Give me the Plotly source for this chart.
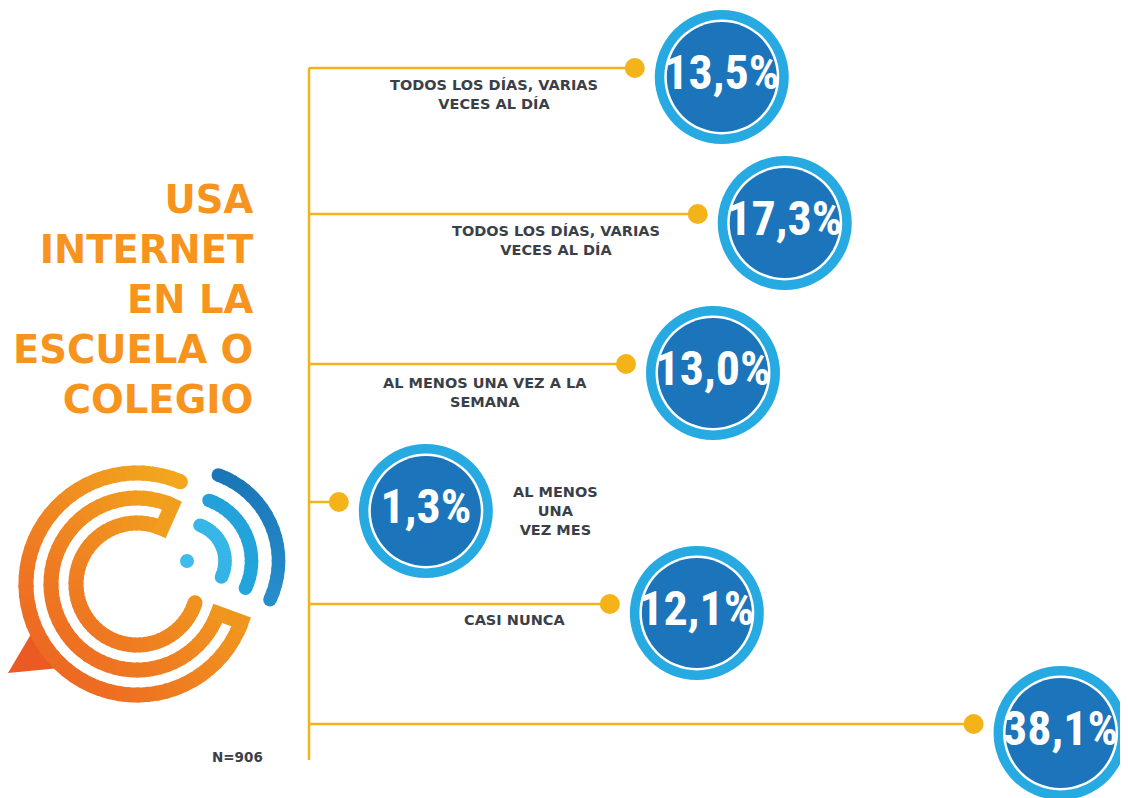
import numpy as np
import plotly.graph_objects as go

# ---------------- data ----------------
categories = [
    "TODOS LOS DÍAS, VARIAS<br>VECES AL DÍA",
    "TODOS LOS DÍAS, VARIAS<br>VECES AL DÍA",
    "AL MENOS UNA VEZ A LA<br>SEMANA",
    "AL MENOS<br>UNA<br>VEZ MES",
    "CASI NUNCA",
    "",
]
values = [13.5, 17.3, 13.0, 1.3, 12.1, 38.1]
value_labels = [f"{v:.1f}".replace(".", ",") + "%" for v in values]
title_lines = ["USA", "INTERNET", "EN LA", "ESCUELA O", "COLEGIO"]
sample_label = "N=906"

# ---------------- layout / style ----------------
W, H = 1128, 798
PAGE_MARGIN = 8         # default body margin of the html page
row_y = [68, 214, 364, 502, 604, 724]          # vertical placement of rows (px)
label_dx = [-141, -142, -141, 217, -95, 0]      # label offset from the dot (px)
label_dy = [26, 26, 28, 9, 16, 0]
SPINE_X = 309           # pixel position of the vertical spine
AXIS_ZERO_PX = 242.5    # pixel position of transformed value 0
PX_PER_UNIT = 82.3      # scale factor of the power scale
POWER = 0.6             # power scale used for line lengths
CIRCLE_DX = 87
CIRCLE_DY = 9
SPINE_BOTTOM = 760

GOLD = "#F5B31A"
LIGHT_BLUE = "#27AAE1"
DARK_BLUE = "#1C75BB"
TEXT_GRAY = "#3B3F48"
ORANGE = "#F7941D"

scaled = [v ** POWER for v in values]
x2_range = [(PAGE_MARGIN - AXIS_ZERO_PX) / PX_PER_UNIT, (W - AXIS_ZERO_PX) / PX_PER_UNIT]
spine_u = (SPINE_X - AXIS_ZERO_PX) / PX_PER_UNIT
cdx = CIRCLE_DX / PX_PER_UNIT

fig = go.Figure()

# spine
fig.add_trace(go.Scatter(x=[spine_u, spine_u], y=[row_y[0], SPINE_BOTTOM], mode="lines",
                         line=dict(color=GOLD, width=2.5), xaxis="x2", yaxis="y",
                         hoverinfo="skip", showlegend=False))
# branches
bx, by = [], []
for s, ry in zip(scaled, row_y):
    bx += [spine_u, s, None]
    by += [ry, ry, None]
fig.add_trace(go.Scatter(x=bx, y=by, mode="lines", line=dict(color=GOLD, width=2.5),
                         xaxis="x2", yaxis="y", hoverinfo="skip", showlegend=False))
# dots
fig.add_trace(go.Scatter(x=scaled, y=row_y, mode="markers",
                         marker=dict(size=20, color=GOLD, line=dict(width=0)),
                         xaxis="x2", yaxis="y", hoverinfo="skip", showlegend=False))
# circles
cx_vals = [s + cdx for s in scaled]
cy_vals = [ry + CIRCLE_DY for ry in row_y]
for size, col in [(134, LIGHT_BLUE), (115, "white"), (110, DARK_BLUE)]:
    fig.add_trace(go.Scatter(x=cx_vals, y=cy_vals, mode="markers",
                             marker=dict(size=size, color=col, line=dict(width=0)),
                             xaxis="x2", yaxis="y", hoverinfo="skip", showlegend=False))
fig.add_trace(go.Scatter(x=cx_vals, y=cy_vals, mode="text", text=value_labels,
                         textposition="middle center",
                         textfont=dict(family="Roboto Condensed, Roboto, sans-serif",
                                       size=48, color="white", weight=700),
                         xaxis="x2", yaxis="y", hoverinfo="skip", showlegend=False))

annotations = []
for cat, s, ry, dx, dy in zip(categories, scaled, row_y, label_dx, label_dy):
    if not cat:
        continue
    annotations.append(dict(x=s, y=ry + dy, xref="x2", yref="y", xshift=dx,
                            text=cat, showarrow=False, align="center",
                            xanchor="center", yanchor="middle",
                            font=dict(family="DejaVu Sans", size=14.5, color=TEXT_GRAY, weight=700)))

annotations.append(dict(x=256, y=299, xref="x", yref="y", text="<br>".join(title_lines),
                        showarrow=False, align="right", xanchor="right", yanchor="middle",
                        font=dict(family="DejaVu Sans", size=38.5, color=ORANGE, weight=700)))
annotations.append(dict(x=237, y=757, xref="x", yref="y", text=sample_label,
                        showarrow=False, xanchor="center", yanchor="middle",
                        font=dict(family="DejaVu Sans", size=13.5, color=TEXT_GRAY, weight=700)))

# ---------------- logo (decoration) ----------------
shapes = []


def lerp_color(c0, c1, t):
    t = min(max(t, 0.0), 1.0)
    return "rgb(%d,%d,%d)" % tuple(round(a + (b - a) * t) for a, b in zip(c0, c1))


def pt(cx, cy, r, deg):
    a = np.radians(deg)
    return cx + r * np.cos(a), cy - r * np.sin(a)


def grad_orange(x, y):
    t = ((x - 15) + (705 - y)) / ((250 - 15) + (705 - 470))
    return lerp_color((236, 88, 36), (243, 184, 28), t)


def arc_segments(cx, cy, r, a0, a1, width, colfn, step=5.0):
    n = max(1, int(np.ceil(abs(a1 - a0) / step)))
    edges = np.linspace(a0, a1, n + 1)
    for i in range(n):
        s, e = edges[i], edges[i + 1]
        d = np.sign(e - s) * 0.8
        angs = np.linspace(s - d if i > 0 else s, e + d if i < n - 1 else e, 5)
        pts = [pt(cx, cy, r, a) for a in angs]
        path = "M " + " L ".join(f"{x:.2f},{y:.2f}" for x, y in pts)
        mx, my = pt(cx, cy, r, (s + e) / 2)
        shapes.append(dict(type="path", path=path, xref="x", yref="y",
                           line=dict(color=colfn(mx, my), width=width)))


def cap(x, y, d, color):
    shapes.append(dict(type="circle", xref="x", yref="y", x0=x - d / 2, x1=x + d / 2,
                       y0=y - d / 2, y1=y + d / 2, fillcolor=color, line=dict(width=0)))


def radial(cx, cy, r0, r1, deg, width, colfn):
    x0, y0 = pt(cx, cy, r0, deg)
    x1, y1 = pt(cx, cy, r1, deg)
    shapes.append(dict(type="path", path=f"M {x0:.2f},{y0:.2f} L {x1:.2f},{y1:.2f}",
                       xref="x", yref="y",
                       line=dict(color=colfn((x0 + x1) / 2, (y0 + y1) / 2), width=width)))


LCX, LCY = 137, 584
RW = 15
# speech bubble tail
shapes.append(dict(type="path", path="M 8,673 L 34,629 L 60,668 Z", xref="x", yref="y",
                   fillcolor="rgb(236,90,36)", line=dict(width=0)))
arc_segments(LCX, LCY, 111, 67, 340, RW, grad_orange)
arc_segments(LCX, LCY, 86, 66, 340, RW, grad_orange)
arc_segments(LCX, LCY, 61, 66, 342, RW, grad_orange)
radial(LCX, LCY, 118.5, 78.5, 340, RW, grad_orange)
radial(LCX, LCY, 93.5, 53.5, 66, RW, grad_orange)
x, y = pt(LCX, LCY, 111, 67)
cap(x, y, RW, grad_orange(x, y))
x, y = pt(LCX, LCY, 61, 342)
cap(x, y, RW, grad_orange(x, y))

# wifi
WCX, WCY = 187, 561
cap(WCX, WCY, 14, "rgb(62,188,236)")
wifi = [
    (38, (58, 186, 234), (52, 178, 228)),
    (64.5, (36, 160, 218), (33, 165, 220)),
    (91.5, (26, 117, 182), (40, 142, 203)),
]
for r, ctop, cbot in wifi:
    def wcol(x, y, ctop=ctop, cbot=cbot):
        return lerp_color(ctop, cbot, (y - 470) / 130)
    arc_segments(WCX, WCY, r, 70, -25, 13.5, wcol)
    for a in (70, -25):
        x, y = pt(WCX, WCY, r, a)
        cap(x, y, 13.5, wcol(x, y))

fig.update_layout(
    width=W - PAGE_MARGIN, height=H - PAGE_MARGIN,
    margin=dict(l=0, r=0, t=0, b=0),
    paper_bgcolor="white", plot_bgcolor="white",
    xaxis=dict(range=[PAGE_MARGIN, W], visible=False, fixedrange=True),
    xaxis2=dict(range=x2_range, overlaying="x", anchor="y", visible=False, fixedrange=True),
    yaxis=dict(range=[H, PAGE_MARGIN], visible=False, fixedrange=True),
    shapes=shapes,
    annotations=annotations,
    showlegend=False,
)

fig.write_html("out.html")
